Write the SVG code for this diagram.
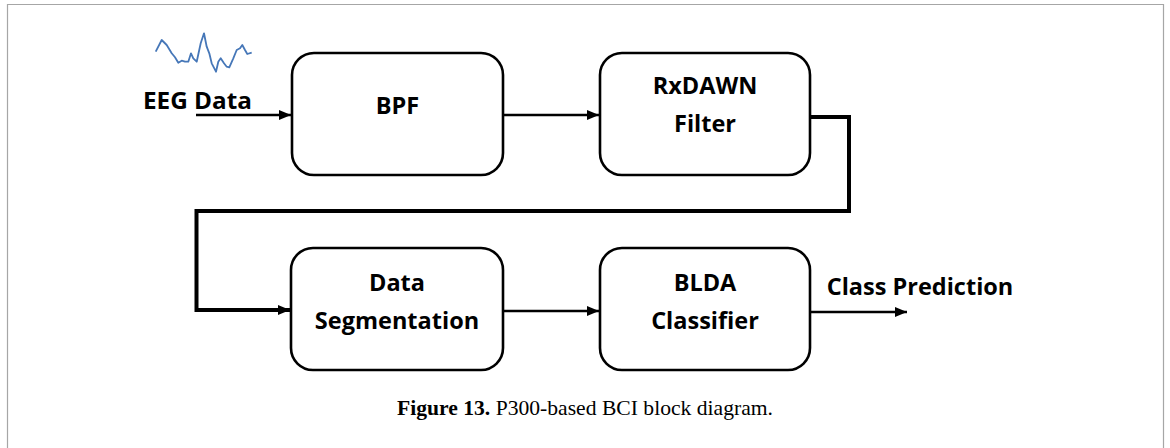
<svg xmlns="http://www.w3.org/2000/svg" width="1170" height="448" viewBox="0 0 1170 448">
  <defs>
    <marker id="arrow" viewBox="0 0 12 10" refX="12" refY="5" markerWidth="12" markerHeight="10" markerUnits="userSpaceOnUse" orient="auto">
      <path d="M0,0 L12,5 L0,10 z" fill="#000"/>
    </marker>
    <style>
      .box { fill: #fff; stroke: #000; stroke-width: 2.6; }
      .lbl { font-family: "Open Sans", "Noto Sans", sans-serif; font-weight: bold; font-size: 23.5px; fill: #000; text-anchor: middle; }
      .edge { fill: none; stroke: #000; stroke-width: 2.6; }
      .cap { font-family: "Liberation Serif", serif; font-size: 21.5px; fill: #000; }
    </style>
  </defs>

  <rect width="1170" height="448" fill="#fff"/>
  <!-- figure frame -->
  <path d="M7.5,460 V4.5 H1163.5 V460" fill="none" stroke="#a6a6a6" stroke-width="1.2"/>

  <!-- signal trace -->
  <polyline fill="none" stroke="#4677b8" stroke-width="1.8" stroke-linejoin="round"
    points="155.7,51.7 161.7,40 166.7,45 171.7,53.3 175,57.3 178.3,62.7 181.7,60.7 185,61.7 188.3,61.7 191,53.3 193.3,58.3 196.7,61.7 200.7,43.3 204,33.3 206.7,46.7 209.3,53.3 211.7,63.3 216,71.7 218.3,61.7 220.7,58.3 224,63.3 226.7,66.7 229.3,67.3 233.3,58.3 236.7,50 240,48.3 242.3,45 245,50 247.3,54 251.7,52.7"/>

  <g id="eeg-data">
    <text class="lbl" x="197.5" y="109" textLength="109" lengthAdjust="spacingAndGlyphs">EEG Data</text>
  </g>

  <g id="bpf">
    <rect class="box" x="292" y="53" width="211" height="122" rx="22"/>
    <text class="lbl" x="397.5" y="114">BPF</text>
  </g>

  <g id="rxdawn">
    <rect class="box" x="600" y="53" width="210" height="122" rx="22"/>
    <text class="lbl" x="705" y="94">RxDAWN</text>
    <text class="lbl" x="705" y="132">Filter</text>
  </g>

  <g id="segmentation">
    <rect class="box" x="291" y="248" width="212" height="122" rx="22"/>
    <text class="lbl" x="397" y="291">Data</text>
    <text class="lbl" x="397" y="329">Segmentation</text>
  </g>

  <g id="blda">
    <rect class="box" x="600" y="248" width="210" height="122" rx="22"/>
    <text class="lbl" x="705" y="291">BLDA</text>
    <text class="lbl" x="705" y="329">Classifier</text>
  </g>

  <g id="class-prediction">
    <text class="lbl" x="920" y="295">Class Prediction</text>
  </g>

  <g id="connectors">
    <line class="edge" x1="196" y1="115" x2="291" y2="115" marker-end="url(#arrow)"/>
    <line class="edge" x1="503" y1="115" x2="599" y2="115" marker-end="url(#arrow)"/>
    <path class="edge" d="M810,117 H849 V211 H196.5 V310 H290" style="stroke-width:4" marker-end="url(#arrow)"/>
    <line class="edge" x1="503" y1="311" x2="599" y2="311" marker-end="url(#arrow)"/>
    <line class="edge" x1="810" y1="312" x2="907" y2="312" marker-end="url(#arrow)"/>
  </g>

  <!-- caption -->
  <text class="cap" x="397" y="415" textLength="376" lengthAdjust="spacingAndGlyphs"><tspan font-weight="bold">Figure 13.</tspan> P300-based BCI block diagram.</text>
</svg>
